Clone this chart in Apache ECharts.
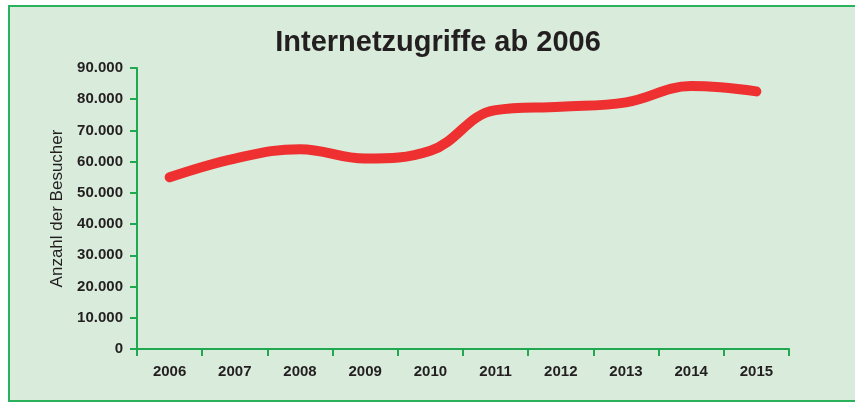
<!DOCTYPE html>
<html>
<head>
<meta charset="utf-8">
<script src="https://cdn.jsdelivr.net/npm/echarts@6/dist/echarts.min.js"></script>
<style>
  html, body { margin: 0; padding: 0; background: #ffffff; }
  #chart { width: 855px; height: 403px; }
</style>
</head>
<body>
<div id="chart"></div>
<script>
// Besucherzahlen pro Jahr
const years = ['2006', '2007', '2008', '2009', '2010', '2011', '2012', '2013', '2014', '2015'];
const visitors = [55000, 61000, 64000, 61000, 63500, 76500, 77600, 79000, 84200, 82500];
const yTicks = [0, 10000, 20000, 30000, 40000, 50000, 60000, 70000, 80000, 90000];

const green = '#1fa84f';
const textColor = '#231f20';
const font = 'Liberation Sans, Arial, sans-serif';

function fmt(v) {
  return v === 0 ? '0' : String(v).replace(/\B(?=(\d{3})+(?!\d))/g, '.');
}

const chart = echarts.init(document.getElementById('chart'), null, { renderer: 'canvas' });
chart.setOption({
  backgroundColor: '#ffffff',
  animation: false,
  graphic: [{
    type: 'rect',
    z: -10,
    shape: { x: 9, y: 6, width: 860, height: 395 },
    style: { fill: '#d9ebdb', stroke: '#2bb05c', lineWidth: 2 }
  }],
  title: {
    text: 'Internetzugriffe ab 2006',
    left: 433,
    textAlign: 'center',
    top: 23,
    textStyle: { fontFamily: font, fontWeight: 'bold', fontSize: 29, color: textColor }
  },
  grid: { left: 137, right: 66, top: 68, bottom: 54, containLabel: false },
  xAxis: {
    type: 'category',
    data: years,
    boundaryGap: true,
    axisLine: { show: true, lineStyle: { color: green, width: 2 } },
    axisTick: { show: true, length: 7, lineStyle: { color: green, width: 2 } },
    axisLabel: { margin: 15, color: textColor, fontFamily: font, fontWeight: 'bold', fontSize: 15 },
    splitLine: { show: false }
  },
  yAxis: {
    type: 'value',
    min: yTicks[0],
    max: yTicks[yTicks.length - 1],
    interval: yTicks[1] - yTicks[0],
    name: 'Anzahl der Besucher',
    nameLocation: 'middle',
    nameGap: 70,
    nameRotate: 90,
    nameTextStyle: { color: textColor, fontFamily: font, fontSize: 17 },
    axisLine: { show: true, lineStyle: { color: green, width: 2 } },
    axisTick: { show: true, length: 7, lineStyle: { color: green, width: 2 } },
    axisLabel: { margin: 14, color: textColor, fontFamily: font, fontWeight: 'bold', fontSize: 15, formatter: fmt },
    splitLine: { show: false }
  },
  series: [{
    type: 'line',
    data: visitors,
    smooth: 0.4,
    symbol: 'none',
    lineStyle: { color: '#ee3030', width: 10, cap: 'round', join: 'round' }
  }]
});
</script>
</body>
</html>
